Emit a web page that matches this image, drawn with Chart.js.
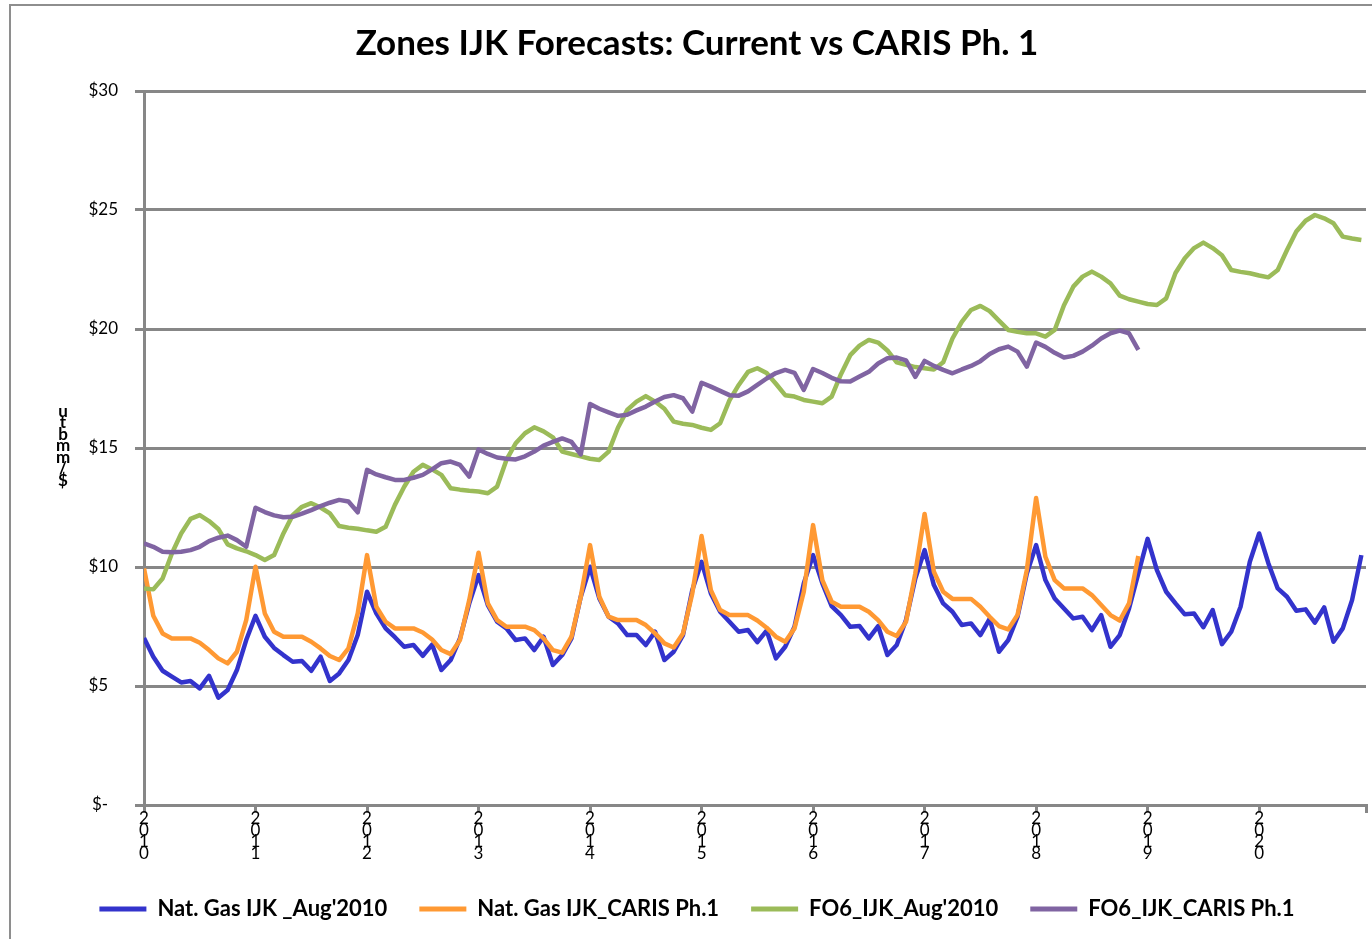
<!DOCTYPE html>
<html>
<head>
<meta charset="utf-8">
<title>Zones IJK Forecasts</title>
<script src="https://cdn.jsdelivr.net/npm/chart.js@4.4.1/dist/chart.umd.min.js"></script>
<style>
  html, body { margin: 0; padding: 0; background: #fff; overflow: hidden; }
  #frame { position: absolute; left: 9px; top: 4px; width: 1400px; height: 1000px;
           border-left: 2px solid #8e8e8e; border-top: 2px solid #8e8e8e; }
  #canvas_side { position: absolute; left: 0; top: 0; width: 1372px; height: 939px; }
</style>
</head>
<body>
<div id="frame"></div>
<div id="canvas_side"><canvas id="myChart"></canvas></div>
<script>
// x axis: one point per month, Jan 2010 .. Dec 2020
const yearLabels = ['2010', '2011', '2012', '2013', '2014', '2015', '2016', '2017', '2018', '2019', '2020'];
const monthIndex = Array.from({length: yearLabels.length * 12}, (_, i) => i);
const yTickLabels = ['$-', '$5', '$10', '$15', '$20', '$25', '$30'];
const yTitle = '$/mmbtu';

// $/mmbtu
const natGasAug2010 = [
  7.02, 6.23, 5.64, 5.39, 5.15, 5.21, 4.90, 5.43, 4.51, 4.83, 5.67, 6.93,
  7.95, 7.07, 6.60, 6.30, 6.02, 6.05, 5.64, 6.23, 5.21, 5.53, 6.09, 7.14,
  8.96, 8.05, 7.42, 7.05, 6.65, 6.72, 6.27, 6.74, 5.67, 6.09, 7.00, 8.47,
  9.66, 8.40, 7.70, 7.42, 6.93, 7.00, 6.51, 7.07, 5.88, 6.30, 7.00, 8.75,
  10.01, 8.68, 7.91, 7.63, 7.14, 7.14, 6.72, 7.28, 6.09, 6.44, 7.14, 9.03,
  10.22, 8.89, 8.12, 7.70, 7.28, 7.35, 6.84, 7.33, 6.16, 6.65, 7.49, 9.31,
  10.50, 9.31, 8.36, 7.98, 7.49, 7.52, 7.00, 7.52, 6.30, 6.72, 7.77, 9.52,
  10.71, 9.24, 8.47, 8.12, 7.56, 7.63, 7.14, 7.82, 6.44, 6.93, 7.91, 9.73,
  10.92, 9.45, 8.68, 8.26, 7.84, 7.91, 7.35, 7.98, 6.65, 7.14, 8.26, 9.73,
  11.18, 9.87, 8.96, 8.47, 8.01, 8.05, 7.47, 8.19, 6.76, 7.28, 8.33, 10.22,
  11.41, 10.15, 9.10, 8.75, 8.16, 8.22, 7.66, 8.30, 6.86, 7.42, 8.61, 10.50
];

const natGasCaris = [
  9.94, 7.95, 7.21, 7.00, 7.00, 7.00, 6.82, 6.51, 6.16, 5.95, 6.44, 7.77,
  10.01, 8.05, 7.28, 7.07, 7.07, 7.07, 6.86, 6.58, 6.26, 6.09, 6.58, 8.05,
  10.50, 8.33, 7.70, 7.42, 7.42, 7.42, 7.25, 6.95, 6.51, 6.34, 6.93, 8.61,
  10.60, 8.47, 7.77, 7.49, 7.49, 7.49, 7.35, 7.00, 6.51, 6.40, 7.07, 8.75,
  10.92, 8.75, 7.91, 7.77, 7.77, 7.77, 7.56, 7.21, 6.79, 6.62, 7.21, 8.89,
  11.30, 9.03, 8.19, 7.98, 7.98, 7.98, 7.75, 7.45, 7.07, 6.86, 7.42, 8.96,
  11.76, 9.45, 8.54, 8.33, 8.33, 8.33, 8.12, 7.77, 7.28, 7.10, 7.70, 9.73,
  12.23, 9.80, 8.96, 8.66, 8.66, 8.66, 8.33, 7.91, 7.52, 7.38, 7.98, 9.87,
  12.90, 10.43, 9.45, 9.10, 9.10, 9.10, 8.82, 8.40, 7.98, 7.75, 8.47, 10.46
];

const fo6Aug2010 = [
  9.10, 9.06, 9.52, 10.57, 11.41, 12.02, 12.18, 11.93, 11.60, 10.95, 10.78, 10.66,
  10.50, 10.29, 10.50, 11.41, 12.18, 12.53, 12.68, 12.50, 12.25, 11.72, 11.65, 11.61,
  11.54, 11.48, 11.69, 12.61, 13.37, 14.00, 14.29, 14.10, 13.87, 13.31, 13.25, 13.20,
  13.17, 13.10, 13.38, 14.50, 15.20, 15.62, 15.87, 15.70, 15.45, 14.85, 14.75, 14.65,
  14.55, 14.50, 14.85, 15.85, 16.60, 16.95, 17.18, 16.95, 16.65, 16.11, 16.02, 15.97,
  15.85, 15.76, 16.04, 17.00, 17.65, 18.20, 18.35, 18.15, 17.70, 17.22, 17.16, 17.02,
  16.95, 16.88, 17.16, 18.10, 18.90, 19.30, 19.54, 19.43, 19.10, 18.60, 18.50, 18.40,
  18.35, 18.30, 18.60, 19.60, 20.30, 20.80, 20.97, 20.75, 20.35, 19.96, 19.88, 19.82,
  19.82, 19.68, 19.96, 21.00, 21.78, 22.20, 22.41, 22.20, 21.92, 21.40, 21.25, 21.15,
  21.05, 21.01, 21.29, 22.35, 22.97, 23.40, 23.63, 23.40, 23.10, 22.48, 22.40, 22.34,
  22.25, 22.17, 22.48, 23.32, 24.10, 24.55, 24.79, 24.65, 24.44, 23.88, 23.80, 23.74
];

const fo6Caris = [
  10.99, 10.85, 10.64, 10.62, 10.64, 10.71, 10.85, 11.09, 11.23, 11.32, 11.13, 10.85,
  12.49, 12.31, 12.17, 12.09, 12.11, 12.24, 12.39, 12.56, 12.70, 12.82, 12.75, 12.30,
  14.08, 13.89, 13.77, 13.66, 13.66, 13.75, 13.87, 14.10, 14.36, 14.43, 14.29, 13.80,
  14.94, 14.75, 14.60, 14.55, 14.52, 14.65, 14.85, 15.10, 15.26, 15.40, 15.26, 14.73,
  16.85, 16.65, 16.50, 16.35, 16.40, 16.58, 16.74, 16.95, 17.14, 17.22, 17.09, 16.53,
  17.74, 17.58, 17.40, 17.22, 17.20, 17.38, 17.65, 17.92, 18.15, 18.28, 18.16, 17.44,
  18.32, 18.15, 17.95, 17.80, 17.79, 18.00, 18.20, 18.55, 18.77, 18.80, 18.68, 17.99,
  18.66, 18.45, 18.28, 18.14, 18.30, 18.45, 18.65, 18.95, 19.15, 19.26, 19.05, 18.42,
  19.43, 19.25, 19.00, 18.80, 18.87, 19.05, 19.30, 19.60, 19.82, 19.93, 19.82, 19.12
];

const gridGray = '#878787';

// stacked, upright characters for the value-axis title, like the original
const stackedYTitle = {
  id: 'stackedYTitle',
  afterDraw(chart) {
    const ctx = chart.ctx;
    const area = chart.chartArea;
    const chars = yTitle.split('').reverse();
    const step = 11.5;
    const midY = (area.top + area.bottom) / 2 - 2;
    ctx.save();
    ctx.font = 'bold 17px Lato';
    ctx.fillStyle = '#000';
    ctx.textAlign = 'center';
    ctx.textBaseline = 'middle';
    chars.forEach(function (c, i) {
      ctx.fillText(c, area.left - 81, midY + (i - (chars.length - 1) / 2) * step);
    });
    ctx.restore();
  }
};

function line(label, data, color, order) {
  return {
    label: label,
    data: data,
    borderColor: color,
    backgroundColor: color,
    borderWidth: 4.5,
    borderJoinStyle: 'round',
    pointRadius: 0,
    tension: 0,
    order: order
  };
}

var ctx = document.getElementById('myChart').getContext('2d');

var myLineChart = new Chart(ctx, {
  type: 'line',
  data: {
    labels: monthIndex,
    datasets: [
      line("Nat. Gas IJK _Aug'2010", natGasAug2010, '#3333CC', 4),
      line('Nat. Gas IJK_CARIS Ph.1', natGasCaris, '#FF9933', 3),
      line("FO6_IJK_Aug'2010", fo6Aug2010, '#9BBB59', 2),
      line('FO6_IJK_CARIS Ph.1', fo6Caris, '#8064A2', 1)
    ]
  },
  plugins: [stackedYTitle],
  options: {
    responsive: true,
    maintainAspectRatio: false,
    animation: false,
    events: [],
    layout: { padding: { left: 28, right: 6, top: 0, bottom: 9 } },
    scales: {
      x: {
        type: 'linear',
        min: 0,
        max: 131.5,
        offset: false,
        afterBuildTicks: function (axis) {
          axis.ticks = yearLabels.map((_, i) => ({ value: i * 12 })).concat([{ value: 131.5 }]);
        },
        afterFit: function (axis) { axis.height = 61; },
        border: { color: gridGray, width: 3 },
        grid: { drawOnChartArea: false, drawTicks: true, tickLength: 8, color: gridGray, lineWidth: 3 },
        ticks: {
          autoSkip: false,
          maxRotation: 0,
          minRotation: 0,
          padding: 0,
          color: '#000',
          font: { family: 'Lato', size: 17, lineHeight: 0.68 },
          callback: function (value) {
            return value % 12 === 0 ? yearLabels[value / 12].split('') : '';
          }
        }
      },
      y: {
        min: 0,
        max: 30,
        afterFit: function (axis) { axis.width = 116; },
        border: { color: gridGray, width: 3 },
        grid: { color: gridGray, lineWidth: 3, tickLength: 9 },
        ticks: {
          stepSize: 5,
          padding: 17,
          color: '#000',
          font: { family: 'Lato', size: 17 },
          callback: function (value) {
            // pad the short labels with figure spaces so they line up on the left, as in Excel
            const s = yTickLabels[value / 5];
            return s.length < 3 ? s + '\u2007' : s;
          }
        }
      }
    },
    plugins: {
      title: {
        display: true,
        text: 'Zones IJK Forecasts: Current vs CARIS Ph. 1',
        color: '#000',
        font: { family: 'Lato', size: 35, weight: 'bold' },
        padding: { top: 23, bottom: 26 }
      },
      legend: {
        position: 'bottom',
        labels: {
          boxWidth: 47,
          boxHeight: 5,
          padding: 32,
          color: '#000',
          font: { family: 'Lato', size: 22, weight: 'bold' },
          sort: function (a, b) { return a.datasetIndex - b.datasetIndex; },
          generateLabels: function (chart) {
            const items = Chart.defaults.plugins.legend.labels.generateLabels(chart);
            items.forEach(function (it) { it.lineWidth = 0; it.fillStyle = it.strokeStyle; });
            return items;
          }
        }
      },
      tooltip: { enabled: false }
    }
  }
});
</script>
</body>
</html>
